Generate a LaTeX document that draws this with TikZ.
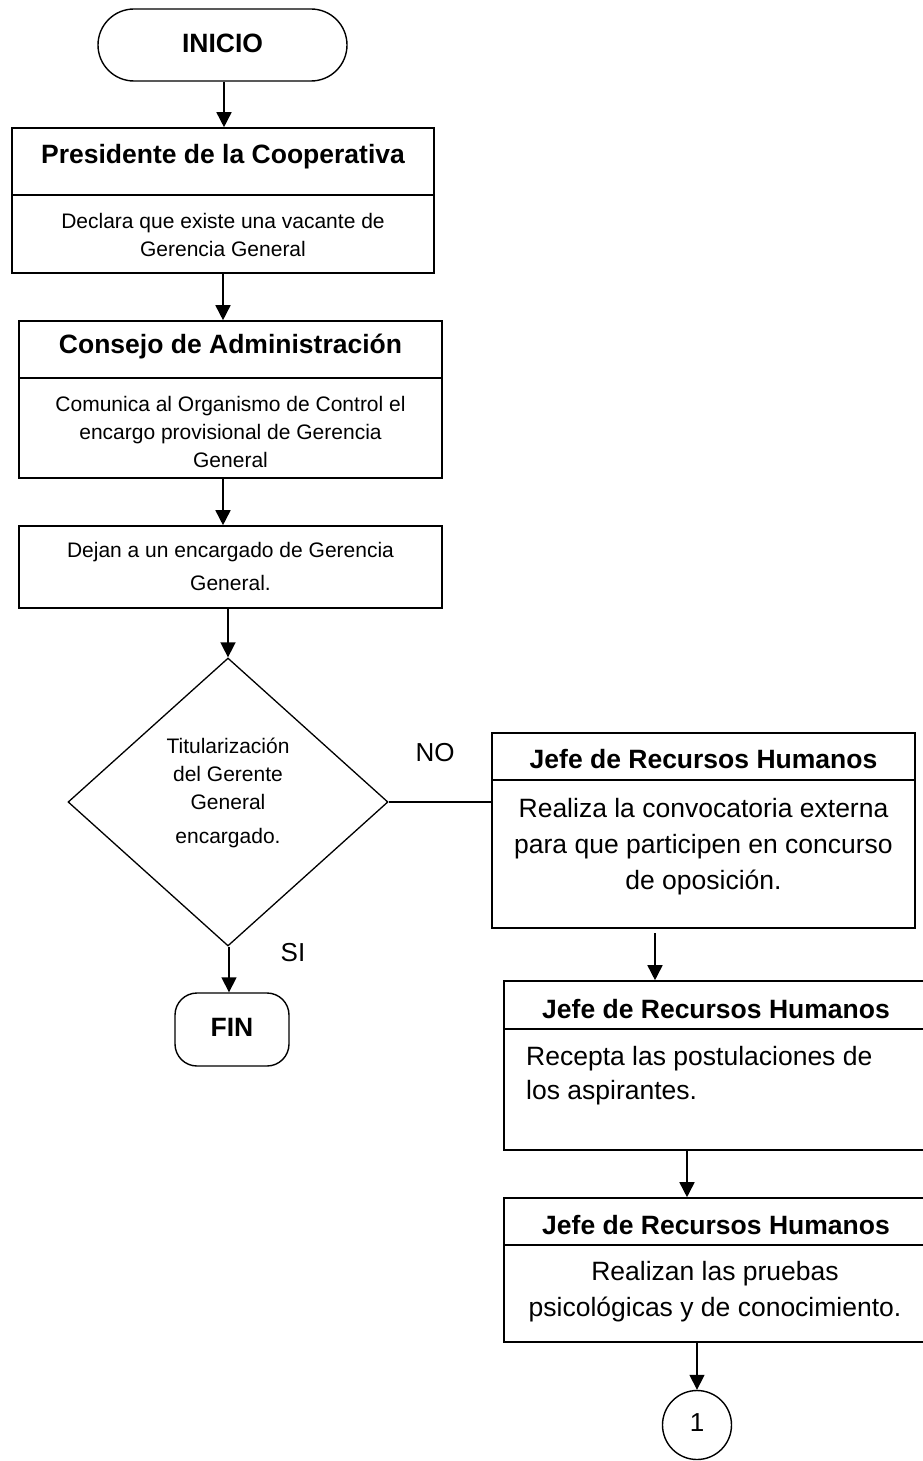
\documentclass[tikz,border=0pt]{standalone}
\usepackage{fontspec}
\setmainfont{Liberation Sans}
\usetikzlibrary{arrows.meta,calc,shapes.geometric}
\begin{document}
\begin{tikzpicture}[x=1pt,y=-1pt,
  box/.style={draw, line width=1.6pt, inner sep=0pt},
  term/.style={draw, line width=1.4pt, inner sep=0pt},
  flow/.style={line width=1.6pt, -{Triangle[length=15pt,width=15pt]}},
  plain/.style={line width=1.4pt},
  ttl/.style={font=\fontsize{26.5}{30}\bfseries\selectfont, inner sep=0pt},
  txt/.style={font=\fontsize{21}{28}\selectfont, align=center, inner sep=0pt},
  big/.style={font=\fontsize{26.5}{36}\selectfont, align=center, inner sep=0pt},
  lbl/.style={font=\fontsize{26}{30}\selectfont, inner sep=0pt}]
\fill[white] (0,0) rectangle (923,1461);
\clip (0,0) rectangle (923,1461);

% start terminal
\node[term, rounded corners=36pt, minimum width=249pt, minimum height=72pt] (ini) at (222.5,45) {};
\node[ttl] (tini) at (222.5,43) {INICIO};

% Presidente de la Cooperativa
\node[box, minimum width=422pt, minimum height=145pt] (b1) at (223,200.5) {};
\draw[box] ($(b1.north west)+(0,68)$) -- ($(b1.north east)+(0,68)$);
\node[ttl] (t1) at (223,157) {Presidente de la Cooperativa};
\node[txt] (d1) at (223,234.5) {Declara que existe una vacante de\\Gerencia General};

% Consejo de Administracion
\node[box, minimum width=423pt, minimum height=157pt] (b2) at (230.5,399.5) {};
\draw[box] ($(b2.north west)+(0,58)$) -- ($(b2.north east)+(0,58)$);
\node[ttl] (t2) at (230.5,347) {Consejo de Administración};
\node[txt] (d2) at (230.5,431.5) {Comunica al Organismo de Control el\\encargo provisional de Gerencia\\General};

% interim manager
\node[box, minimum width=423pt, minimum height=82pt] (b3) at (230.5,567) {};
\node[txt, font=\fontsize{21}{33}\selectfont] (d3) at (230.5,566.5) {Dejan a un encargado de Gerencia\\General.};

% decision
\node[diamond, draw, line width=1.3pt, minimum width=320pt, minimum height=288pt, inner sep=0pt] (q) at (228,802) {};
\node[txt] (tq) at (228,793) {Titularización\\del Gerente\\General\\[6pt]encargado.};

% end terminal
\node[term, rounded corners=22pt, minimum width=114pt, minimum height=73pt] (fin) at (232,1029.5) {};
\node[ttl] (tfin) at (232,1027) {FIN};

% Jefe de Recursos Humanos: external call
\node[box, minimum width=423pt, minimum height=195pt] (b4) at (703.5,830.5) {};
\draw[box] ($(b4.north west)+(0,48)$) -- ($(b4.north east)+(0,48)$);
\node[ttl] (t4) at (703.5,759) {Jefe de Recursos Humanos};
\node[big] (d4) at (703.5,847) {Realiza la convocatoria externa\\para que participen en concurso\\de oposición.};

% Jefe de Recursos Humanos: applications
\node[box, minimum width=422pt, minimum height=169pt] (b5) at (715,1065.5) {};
\draw[box] ($(b5.north west)+(0,49)$) -- ($(b5.north east)+(0,49)$);
\node[ttl] (t5) at (716,1009) {Jefe de Recursos Humanos};
\node[big, align=left, anchor=west, font=\fontsize{26.5}{34}\selectfont] (d5) at (526,1076) {Recepta las postulaciones de\\los aspirantes.};

% Jefe de Recursos Humanos: tests
\node[box, minimum width=422pt, minimum height=144pt] (b6) at (715,1270) {};
\draw[box] ($(b6.north west)+(0,48)$) -- ($(b6.north east)+(0,48)$);
\node[ttl] (t6) at (716,1225) {Jefe de Recursos Humanos};
\node[big] (d6) at (715,1292) {Realizan las pruebas\\psicológicas y de conocimiento.};

% off-page connector
\node[circle, draw, line width=1.4pt, minimum size=69pt, inner sep=0pt] (c1) at (697,1425) {};
\node[lbl] (tc1) at (697,1423) {1};

% branch labels
\node[lbl] (no) at (435,753) {NO};
\node[lbl] (si) at (293,953) {SI};

% connectors
\draw[flow] (ini.south -| 224,0) -- (b1.north -| 224,0);
\draw[flow] (b1.south -| 223,0) -- (b2.north -| 223,0);
\draw[flow] (b2.south -| 223,0) -- (b3.north -| 223,0);
\draw[flow] (b3.south -| q.north) -- (q.north);
\draw[plain] (q.east) -- (b4.west |- q.east);
\draw[flow] (q.south -| 229,0) -- (fin.north -| 229,0);
\coordinate (b4out) at (655,933);
\draw[flow] (b4out) -- (b5.north -| b4out);
\draw[flow] (b5.south -| 687,0) -- (b6.north -| 687,0);
\draw[flow] (b6.south -| c1.north) -- (c1.north);
\end{tikzpicture}
\end{document}
